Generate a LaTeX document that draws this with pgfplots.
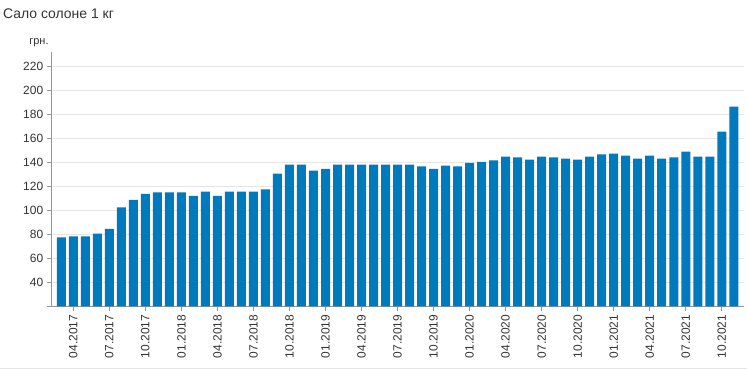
\documentclass[border=0pt]{standalone}
\usepackage{pgfplots}
\pgfplotsset{compat=1.18}
\usepackage{fontspec}
\setmainfont{Liberation Sans}
\definecolor{barblue}{RGB}{0,122,189}
\definecolor{txt}{RGB}{51,51,51}
\definecolor{axgray}{RGB}{150,150,150}
\definecolor{gridgray}{RGB}{230,230,230}
\begin{document}
\begin{tikzpicture}
\useasboundingbox (-51.7bp,-64.7bp) rectangle (695.3bp,306.3bp);
\begin{axis}[
  at={(0,0)}, anchor=south west,
  scale only axis,
  width=692.3bp, height=254.6bp,
  xmin=-0.8, xmax=56.85,
  ymin=20, ymax=232.5,
  axis x line*=bottom, axis y line*=left,
  axis line style={axgray, line width=1.5bp, -},
  ytick={20,40,...,220},
  yticklabels={,40,60,80,100,120,140,160,180,200,220},
  xtick={1,4,...,55},
  xticklabels={04.2017,07.2017,10.2017,01.2018,04.2018,07.2018,10.2018,01.2019,04.2019,07.2019,10.2019,01.2020,04.2020,07.2020,10.2020,01.2021,04.2021,07.2021,10.2021},
  x tick label style={rotate=90, anchor=east, font=\fontsize{12}{14}\selectfont, text=txt},
  y tick label style={font=\fontsize{12}{14}\selectfont, text=txt},
  /pgf/number format/assume math mode=true,
  tick align=outside,
  major tick length=5bp,
  tick style={axgray, line width=1bp},
  ymajorgrids,
  grid style={gridgray, line width=1.5bp},
  axis on top=false,
]
\addplot[ybar, bar width=9bp, fill=barblue, draw=none] coordinates {
(0,77.5) (1,78.3) (2,78.3) (3,80.6) (4,84.7) (5,102.5) (6,108.9) (7,113.9)
(8,115) (9,115) (10,115) (11,112.2) (12,115.8) (13,112.2) (14,115.8) (15,115.8)
(16,115.8) (17,117.5) (18,130.8) (19,138.3) (20,138.3) (21,133.3) (22,134.7) (23,138.3)
(24,138.3) (25,138.3) (26,138.3) (27,138.3) (28,138.3) (29,138.3) (30,136.7) (31,134.7)
(32,137.5) (33,136.7) (34,139.7) (35,140.6) (36,141.7) (37,145) (38,144.2) (39,142.5)
(40,145) (41,144.2) (42,143.3) (43,142.5) (44,145) (45,146.7) (46,147.5) (47,145.8)
(48,143.3) (49,145.8) (50,143.3) (51,144.2) (52,149.2) (53,145) (54,145) (55,165.8)
(56,186.7)
};
\end{axis}
\node[anchor=west, text=txt, font=\fontsize{14}{16}\selectfont, inner sep=0pt] at (-48.7bp,292.3bp) {Сало солоне 1 кг};
\node[anchor=center, text=txt, font=\fontsize{11}{13}\selectfont, inner sep=0pt] at (-12.7bp,263.3bp) {грн.};
\draw[gridgray, line width=1bp] (-51.7bp,-62bp) -- (695.3bp,-62bp);
\end{tikzpicture}
\end{document}
